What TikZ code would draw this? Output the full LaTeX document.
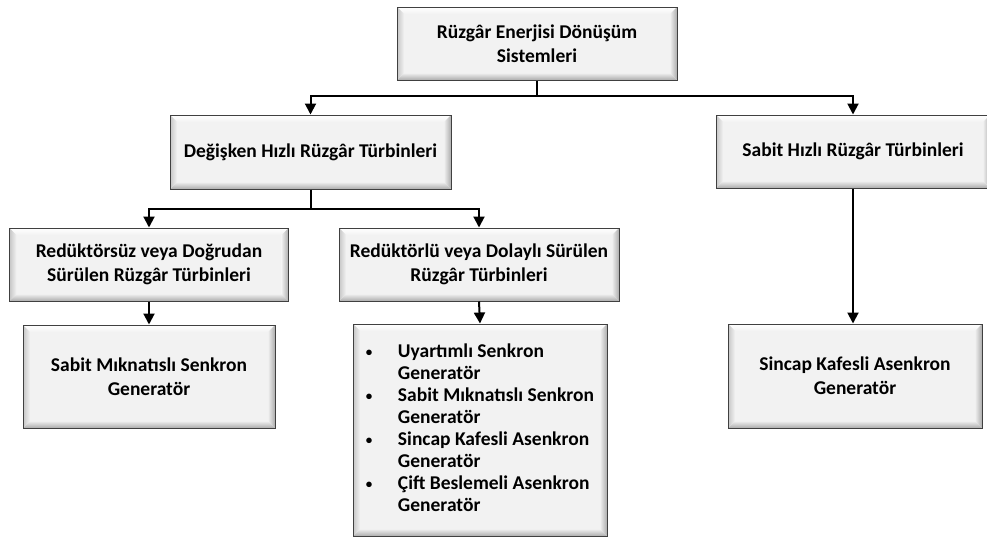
\documentclass[tikz,border=0pt]{standalone}
\usepackage{fontspec}
\setmainfont{Carlito}
\usetikzlibrary{arrows.meta}
\newcommand{\smbullet}{\raisebox{1pt}{\fontsize{13}{13}\selectfont\textbullet}}
\tikzset{
  box/.style={draw=black!75, line width=1pt, fill=gray!10, inner sep=0pt,
    align=center, font=\bfseries\fontsize{19.5}{24}\selectfont,
    path picture={
      \path (path picture bounding box.north west) coordinate (pNW)
            (path picture bounding box.north east) coordinate (pNE)
            (path picture bounding box.south west) coordinate (pSW)
            (path picture bounding box.south east) coordinate (pSE);
      \shade[top color=white, bottom color=gray!10]
        (pNW) -- (pNE) -- ([shift={(-7pt,-7pt)}]pNE) -- ([shift={(7pt,-7pt)}]pNW) -- cycle;
      \shade[top color=gray!12, bottom color=gray!65]
        (pSW) -- (pSE) -- ([shift={(-7pt,7pt)}]pSE) -- ([shift={(7pt,7pt)}]pSW) -- cycle;
      \shade[left color=gray!45, right color=gray!10]
        (pNW) -- (pSW) -- ([shift={(7pt,7pt)}]pSW) -- ([shift={(7pt,-7pt)}]pNW) -- cycle;
      \shade[left color=gray!12, right color=gray!65]
        (pNE) -- (pSE) -- ([shift={(-7pt,7pt)}]pSE) -- ([shift={(-7pt,-7pt)}]pNE) -- cycle;
    }},
  ln/.style={line width=2pt, black},
  arr/.style={ln, -{Triangle[width=11pt,length=11pt]}}
}
\begin{document}
\begin{tikzpicture}[x=1pt,y=1pt]
\useasboundingbox (0,0) rectangle (987,-538);
\node[box, minimum width=280pt, minimum height=73pt] (A) at (537,-43.5) {Rüzgâr Enerjisi Dönüşüm\\Sistemleri};
\node[box, minimum width=281pt, minimum height=74pt] (B) at (310.5,-152) {Değişken Hızlı Rüzgâr Türbinleri};
\node[box, minimum width=274pt, minimum height=73pt] (C) at (853,-151.5) {Sabit Hızlı Rüzgâr Türbinleri};
\node[box, minimum width=279pt, minimum height=73pt] (D) at (149,-264.5) {Redüktörsüz veya Doğrudan\\Sürülen Rüzgâr Türbinleri};
\node[box, minimum width=280pt, minimum height=73pt] (E) at (479,-264.5) {Redüktörlü veya Dolaylı Sürülen\\Rüzgâr Türbinleri};
\node[box, minimum width=252pt, minimum height=103pt] (F) at (149,-376.5) {Sabit Mıknatıslı Senkron\\Generatör};
\node[box, minimum width=254pt, minimum height=212pt] (G) at (480,-430) {\fontsize{19.5}{22}\selectfont
  \begin{tabular}{@{}p{32pt}@{}l@{}}
  \smbullet & Uyartımlı Senkron\\
   & Generatör\\
  \smbullet & Sabit Mıknatıslı Senkron\\
   & Generatör\\
  \smbullet & Sincap Kafesli Asenkron\\
   & Generatör\\
  \smbullet & Çift Beslemeli Asenkron\\
   & Generatör
  \end{tabular}};
\node[box, minimum width=254pt, minimum height=104pt] (H) at (855,-376) {Sincap Kafesli Asenkron\\Generatör};

\draw[ln] (A.south) -- ++(0,-15) coordinate (aj);
\draw[arr] (aj) -| (B.north);
\draw[arr] (aj) -| (C.north);
\draw[ln] (B.south) -- ++(0,-19) coordinate (bj);
\draw[arr] (bj) -| (D.north);
\draw[arr] (bj) -| (E.north);
\draw[arr] (D.south) -- (F.north);
\draw[arr] (E.south) -- (G.north);
\draw[arr] (C.south) -- (C.south |- H.north);
\end{tikzpicture}
\end{document}
